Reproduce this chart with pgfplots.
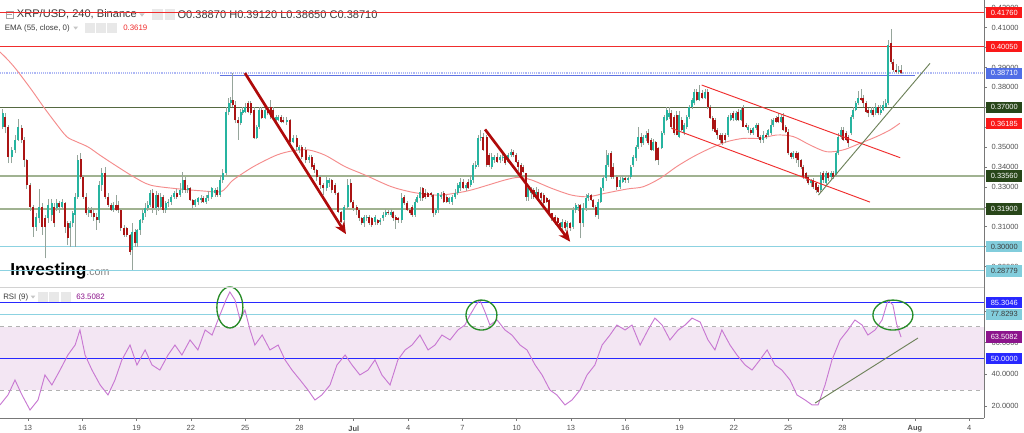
\documentclass[border=0pt]{standalone}
\usepackage{fontspec}
\setmainfont{Liberation Sans}
\usepackage{pgfplots}
\usepackage{pgfplotstable}
\pgfplotsset{compat=1.18}
\usetikzlibrary{arrows.meta}

\definecolor{upc}{RGB}{38,180,160}
\definecolor{dnc}{RGB}{170,20,20}
\definecolor{wickc}{RGB}{150,165,155}
\definecolor{emac}{RGB}{245,140,140}
\definecolor{redl}{RGB}{240,45,45}
\definecolor{arrowc}{RGB}{175,10,10}
\definecolor{dgreen}{RGB}{85,105,65}
\definecolor{lgreen}{RGB}{160,178,145}
\definecolor{lblue}{RGB}{140,210,225}
\definecolor{dotblue}{RGB}{175,185,245}
\definecolor{segblue}{RGB}{95,115,225}
\definecolor{rsic}{RGB}{200,120,210}
\definecolor{bandc}{RGB}{243,230,243}
\definecolor{rsiblue}{RGB}{40,40,255}
\definecolor{labred}{RGB}{250,25,25}
\definecolor{labgreen}{RGB}{40,70,25}
\definecolor{labblue}{RGB}{80,110,230}
\definecolor{labcyan}{RGB}{130,205,220}
\definecolor{labpurple}{RGB}{140,20,140}
\definecolor{axisgray}{RGB}{120,120,120}
\definecolor{txtgray}{RGB}{80,80,80}
\definecolor{hdr}{RGB}{60,60,60}
\definecolor{trendg}{RGB}{110,130,90}
\definecolor{ellg}{RGB}{40,140,40}

\newcommand{\fsz}[1]{\fontsize{#1pt}{#1pt}\selectfont}

% XRP/USD 4h candles, x = bar index (4 h each)
\pgfplotstableread{
b o h l c
0.9 0.3603 0.3690 0.3590 0.3670
1.7 0.3653 0.3670 0.3570 0.3600
2.8 0.3603 0.3610 0.3420 0.3452
3.9 0.3452 0.3500 0.3420 0.3486
5.0 0.3486 0.3560 0.3470 0.3536
6.1 0.3536 0.3640 0.3530 0.3603
7.2 0.3594 0.3610 0.3520 0.3536
8.0 0.3536 0.3550 0.3400 0.3435
8.8 0.3435 0.3440 0.3290 0.3310
9.9 0.3310 0.3320 0.3180 0.3201
11.0 0.3201 0.3210 0.3050 0.3100
11.9 0.3100 0.3170 0.3080 0.3151
13.0 0.3142 0.3290 0.3120 0.3201
14.0 0.3201 0.3220 0.3060 0.3100
14.9 0.3142 0.3160 0.2941 0.3100
16.0 0.3142 0.3240 0.3120 0.3209
17.1 0.3160 0.3240 0.3130 0.3218
17.9 0.3201 0.3220 0.3100 0.3117
18.8 0.3192 0.3240 0.3180 0.3218
19.7 0.3218 0.3230 0.3170 0.3201
20.6 0.3201 0.3240 0.3190 0.3226
21.5 0.3218 0.3225 0.3070 0.3100
22.4 0.3117 0.3130 0.3008 0.3042
23.3 0.3092 0.3130 0.3000 0.3117
24.1 0.3117 0.3180 0.3100 0.3167
24.9 0.3160 0.3270 0.3000 0.3251
25.7 0.3251 0.3460 0.3240 0.3435
26.7 0.3440 0.3469 0.3340 0.3352
27.6 0.3352 0.3360 0.3240 0.3251
28.5 0.3251 0.3270 0.3160 0.3167
29.4 0.3167 0.3200 0.3150 0.3184
30.2 0.3184 0.3200 0.3150 0.3167
31.0 0.3167 0.3190 0.3130 0.3151
32.0 0.3151 0.3170 0.3084 0.3134
32.9 0.3134 0.3330 0.3120 0.3310
33.7 0.3310 0.3394 0.3280 0.3368
34.8 0.3368 0.3402 0.3240 0.3251
35.9 0.3251 0.3270 0.3200 0.3209
36.8 0.3209 0.3220 0.3180 0.3184
37.6 0.3184 0.3225 0.3175 0.3209
38.5 0.3209 0.3259 0.3180 0.3184
39.2 0.3209 0.3230 0.3170 0.3184
40.0 0.3184 0.3190 0.3080 0.3092
41.1 0.3092 0.3110 0.3050 0.3058
42.0 0.3092 0.3100 0.3050 0.3058
43.1 0.3058 0.3065 0.2960 0.2975
43.9 0.2983 0.3120 0.2883 0.3075
44.8 0.3075 0.3090 0.3000 0.3017
45.5 0.3017 0.3090 0.3000 0.3084
46.4 0.3084 0.3140 0.3060 0.3134
47.3 0.3134 0.3190 0.3120 0.3167
48.2 0.3167 0.3220 0.3150 0.3192
49.0 0.3192 0.3230 0.3180 0.3209
49.7 0.3209 0.3285 0.3200 0.3268
50.6 0.3268 0.3290 0.3170 0.3192
51.7 0.3192 0.3280 0.3160 0.3259
52.5 0.3259 0.3270 0.3180 0.3201
53.3 0.3201 0.3270 0.3190 0.3251
54.1 0.3251 0.3260 0.3170 0.3184
54.9 0.3184 0.3230 0.3170 0.3218
55.8 0.3218 0.3240 0.3200 0.3226
56.7 0.3226 0.3260 0.3210 0.3251
57.7 0.3251 0.3280 0.3240 0.3268
58.6 0.3268 0.3290 0.3240 0.3251
59.7 0.3259 0.3320 0.3250 0.3285
60.6 0.3285 0.3377 0.3270 0.3335
61.3 0.3335 0.3350 0.3270 0.3285
62.2 0.3285 0.3310 0.3270 0.3293
63.0 0.3293 0.3300 0.3230 0.3234
63.9 0.3234 0.3240 0.3190 0.3209
64.6 0.3209 0.3240 0.3200 0.3234
65.7 0.3226 0.3250 0.3210 0.3243
66.6 0.3234 0.3260 0.3220 0.3243
67.4 0.3243 0.3255 0.3220 0.3226
68.3 0.3226 0.3260 0.3215 0.3243
69.1 0.3243 0.3280 0.3230 0.3259
70.2 0.3251 0.3300 0.3240 0.3293
71.3 0.3268 0.3295 0.3250 0.3285
72.0 0.3285 0.3300 0.3250 0.3259
72.9 0.3259 0.3360 0.3250 0.3335
73.8 0.3335 0.3390 0.3320 0.3368
74.9 0.3368 0.3700 0.3360 0.3678
75.8 0.3678 0.3745 0.3660 0.3720
76.5 0.3720 0.3750 0.3700 0.3737
77.1 0.3737 0.3870 0.3700 0.3712
78.0 0.3712 0.3730 0.3620 0.3636
79.0 0.3636 0.3650 0.3536 0.3620
79.8 0.3620 0.3690 0.3610 0.3678
80.4 0.3670 0.3700 0.3660 0.3687
81.2 0.3678 0.3720 0.3670 0.3703
82.3 0.3720 0.3730 0.3670 0.3678
83.1 0.3720 0.3730 0.3660 0.3670
84.2 0.3687 0.3700 0.3540 0.3544
85.1 0.3544 0.3610 0.3540 0.3603
86.0 0.3603 0.3700 0.3590 0.3687
86.7 0.3687 0.3700 0.3640 0.3645
87.8 0.3645 0.3700 0.3640 0.3687
88.7 0.3687 0.3700 0.3660 0.3670
89.7 0.3700 0.3735 0.3640 0.3653
90.6 0.3687 0.3700 0.3640 0.3653
91.5 0.3636 0.3660 0.3620 0.3653
92.3 0.3636 0.3660 0.3630 0.3653
93.1 0.3653 0.3660 0.3620 0.3628
93.9 0.3636 0.3650 0.3620 0.3628
95.0 0.3628 0.3650 0.3610 0.3636
96.1 0.3636 0.3640 0.3510 0.3527
97.2 0.3527 0.3560 0.3520 0.3544
98.3 0.3544 0.3560 0.3480 0.3502
99.1 0.3486 0.3510 0.3470 0.3502
100.0 0.3502 0.3510 0.3440 0.3452
101.3 0.3486 0.3500 0.3420 0.3435
102.4 0.3435 0.3460 0.3420 0.3452
103.3 0.3452 0.3460 0.3390 0.3402
104.2 0.3410 0.3420 0.3370 0.3385
105.0 0.3385 0.3390 0.3330 0.3352
106.1 0.3352 0.3360 0.3290 0.3310
107.2 0.3310 0.3320 0.3260 0.3293
108.3 0.3293 0.3350 0.3280 0.3335
109.1 0.3318 0.3345 0.3300 0.3335
109.9 0.3335 0.3340 0.3270 0.3285
111.0 0.3310 0.3320 0.3260 0.3268
112.1 0.3268 0.3275 0.3170 0.3176
113.0 0.3176 0.3180 0.3120 0.3126
114.1 0.3134 0.3210 0.3110 0.3201
115.2 0.3201 0.3340 0.3190 0.3310
116.2 0.3318 0.3340 0.3220 0.3226
117.1 0.3226 0.3235 0.3180 0.3192
118.2 0.3201 0.3210 0.3160 0.3184
119.1 0.3184 0.3190 0.3130 0.3142
119.9 0.3142 0.3150 0.3110 0.3117
120.8 0.3117 0.3160 0.3100 0.3151
121.5 0.3142 0.3160 0.3130 0.3151
122.4 0.3151 0.3160 0.3110 0.3117
123.2 0.3142 0.3150 0.3100 0.3109
124.3 0.3126 0.3160 0.3110 0.3151
125.2 0.3134 0.3140 0.3110 0.3117
126.1 0.3126 0.3145 0.3110 0.3134
127.0 0.3142 0.3175 0.3130 0.3160
127.9 0.3160 0.3190 0.3150 0.3176
128.7 0.3176 0.3185 0.3160 0.3167
129.6 0.3160 0.3190 0.3150 0.3176
130.4 0.3176 0.3180 0.3130 0.3142
131.2 0.3151 0.3160 0.3090 0.3134
132.1 0.3142 0.3150 0.3120 0.3134
133.1 0.3134 0.3270 0.3120 0.3243
134.0 0.3251 0.3260 0.3210 0.3218
134.9 0.3218 0.3230 0.3180 0.3184
135.9 0.3184 0.3190 0.3160 0.3167
136.7 0.3201 0.3210 0.3150 0.3160
137.6 0.3160 0.3240 0.3150 0.3226
138.4 0.3226 0.3260 0.3220 0.3251
139.3 0.3243 0.3301 0.3230 0.3276
140.1 0.3293 0.3300 0.3230 0.3243
140.9 0.3268 0.3290 0.3240 0.3251
141.8 0.3268 0.3275 0.3250 0.3251
142.9 0.3268 0.3275 0.3250 0.3260
143.6 0.3259 0.3265 0.3150 0.3167
144.4 0.3167 0.3190 0.3160 0.3184
145.3 0.3184 0.3270 0.3170 0.3268
146.2 0.3251 0.3275 0.3240 0.3259
147.1 0.3268 0.3280 0.3220 0.3226
148.1 0.3251 0.3260 0.3220 0.3226
148.9 0.3226 0.3250 0.3215 0.3243
149.9 0.3226 0.3260 0.3210 0.3251
150.8 0.3251 0.3290 0.3240 0.3268
151.7 0.3268 0.3320 0.3260 0.3310
152.6 0.3293 0.3345 0.3280 0.3327
153.6 0.3327 0.3340 0.3290 0.3293
154.5 0.3293 0.3320 0.3280 0.3310
155.2 0.3327 0.3340 0.3290 0.3293
156.0 0.3310 0.3360 0.3300 0.3335
156.9 0.3335 0.3420 0.3320 0.3410
157.7 0.3402 0.3430 0.3390 0.3410
158.6 0.3410 0.3560 0.3400 0.3544
159.3 0.3544 0.3586 0.3530 0.3553
160.2 0.3553 0.3570 0.3480 0.3486
161.3 0.3553 0.3560 0.3400 0.3410
162.2 0.3460 0.3470 0.3400 0.3410
163.0 0.3402 0.3470 0.3390 0.3452
163.9 0.3435 0.3460 0.3420 0.3452
164.9 0.3452 0.3470 0.3420 0.3427
165.7 0.3435 0.3460 0.3420 0.3452
166.6 0.3443 0.3470 0.3430 0.3452
167.4 0.3452 0.3460 0.3410 0.3419
168.5 0.3427 0.3470 0.3420 0.3460
169.4 0.3460 0.3490 0.3450 0.3477
170.2 0.3477 0.3485 0.3450 0.3460
171.0 0.3460 0.3470 0.3420 0.3427
171.8 0.3427 0.3435 0.3380 0.3402
172.7 0.3410 0.3420 0.3350 0.3360
173.5 0.3402 0.3410 0.3370 0.3377
174.4 0.3368 0.3370 0.3230 0.3251
175.1 0.3251 0.3300 0.3230 0.3293
176.0 0.3268 0.3300 0.3240 0.3285
176.9 0.3285 0.3295 0.3240 0.3251
177.7 0.3251 0.3300 0.3240 0.3276
178.5 0.3276 0.3290 0.3230 0.3234
179.3 0.3268 0.3275 0.3230 0.3243
180.2 0.3259 0.3270 0.3200 0.3218
181.2 0.3243 0.3250 0.3220 0.3226
182.1 0.3234 0.3240 0.3160 0.3167
182.9 0.3167 0.3170 0.3130 0.3142
184.0 0.3151 0.3160 0.3110 0.3126
184.9 0.3142 0.3150 0.3100 0.3117
185.6 0.3117 0.3125 0.3090 0.3100
186.4 0.3100 0.3140 0.3080 0.3126
187.3 0.3126 0.3135 0.3080 0.3092
188.1 0.3100 0.3130 0.3090 0.3117
189.1 0.3117 0.3125 0.3080 0.3092
190.1 0.3100 0.3200 0.3090 0.3184
190.8 0.3184 0.3220 0.3170 0.3209
191.7 0.3192 0.3215 0.3180 0.3201
192.4 0.3209 0.3215 0.3042 0.3117
193.4 0.3117 0.3220 0.3100 0.3192
194.3 0.3192 0.3265 0.3180 0.3243
195.0 0.3243 0.3270 0.3230 0.3259
195.9 0.3259 0.3265 0.3230 0.3234
196.7 0.3234 0.3240 0.3190 0.3201
197.5 0.3201 0.3210 0.3150 0.3160
198.3 0.3160 0.3240 0.3140 0.3226
199.1 0.3226 0.3300 0.3220 0.3293
200.0 0.3293 0.3360 0.3280 0.3343
200.9 0.3343 0.3486 0.3330 0.3410
201.7 0.3410 0.3470 0.3400 0.3460
202.6 0.3469 0.3480 0.3340 0.3352
203.3 0.3402 0.3420 0.3340 0.3352
204.4 0.3352 0.3360 0.3285 0.3301
205.5 0.3301 0.3350 0.3290 0.3335
206.4 0.3327 0.3360 0.3320 0.3343
207.2 0.3343 0.3350 0.3320 0.3335
208.3 0.3335 0.3360 0.3320 0.3343
209.1 0.3352 0.3410 0.3340 0.3402
209.9 0.3410 0.3460 0.3400 0.3452
210.8 0.3443 0.3510 0.3430 0.3502
211.6 0.3502 0.3603 0.3490 0.3553
212.5 0.3553 0.3570 0.3500 0.3519
213.3 0.3519 0.3560 0.3510 0.3553
214.1 0.3544 0.3580 0.3530 0.3561
214.9 0.3569 0.3590 0.3510 0.3519
215.8 0.3536 0.3545 0.3480 0.3486
216.6 0.3486 0.3540 0.3480 0.3527
217.4 0.3527 0.3530 0.3430 0.3435
218.2 0.3494 0.3500 0.3410 0.3435
219.3 0.3494 0.3580 0.3490 0.3569
220.1 0.3569 0.3660 0.3560 0.3653
221.0 0.3636 0.3700 0.3630 0.3687
221.9 0.3653 0.3700 0.3640 0.3670
222.6 0.3670 0.3687 0.3590 0.3603
223.5 0.3653 0.3660 0.3560 0.3569
224.3 0.3661 0.3680 0.3560 0.3561
225.2 0.3553 0.3680 0.3545 0.3661
226.0 0.3636 0.3650 0.3580 0.3586
226.7 0.3569 0.3620 0.3560 0.3611
227.6 0.3603 0.3660 0.3590 0.3653
228.5 0.3653 0.3710 0.3640 0.3703
229.4 0.3703 0.3745 0.3690 0.3737
230.2 0.3720 0.3790 0.3710 0.3779
230.9 0.3779 0.3790 0.3730 0.3737
231.8 0.3737 0.3812 0.3730 0.3779
232.7 0.3770 0.3785 0.3740 0.3746
233.7 0.3746 0.3790 0.3740 0.3779
234.6 0.3779 0.3790 0.3690 0.3703
235.4 0.3703 0.3710 0.3640 0.3645
236.2 0.3645 0.3655 0.3580 0.3590
237.1 0.3636 0.3645 0.3570 0.3578
237.8 0.3586 0.3595 0.3540 0.3561
238.7 0.3561 0.3570 0.3520 0.3536
239.5 0.3561 0.3570 0.3510 0.3519
240.4 0.3561 0.3570 0.3520 0.3536
241.4 0.3561 0.3660 0.3550 0.3653
242.2 0.3636 0.3670 0.3630 0.3661
243.1 0.3670 0.3680 0.3630 0.3645
244.0 0.3636 0.3680 0.3630 0.3670
244.7 0.3678 0.3690 0.3630 0.3636
245.6 0.3636 0.3700 0.3630 0.3687
246.4 0.3695 0.3710 0.3600 0.3603
247.3 0.3611 0.3620 0.3595 0.3603
248.1 0.3586 0.3610 0.3570 0.3603
248.9 0.3586 0.3595 0.3560 0.3569
249.7 0.3569 0.3600 0.3560 0.3594
250.6 0.3594 0.3620 0.3585 0.3611
251.4 0.3611 0.3620 0.3540 0.3553
252.1 0.3553 0.3560 0.3520 0.3536
253.0 0.3536 0.3580 0.3520 0.3561
253.9 0.3561 0.3570 0.3540 0.3553
254.7 0.3561 0.3590 0.3550 0.3586
255.6 0.3569 0.3640 0.3560 0.3611
256.3 0.3611 0.3645 0.3600 0.3636
257.2 0.3645 0.3655 0.3620 0.3628
258.0 0.3653 0.3670 0.3620 0.3628
258.9 0.3628 0.3660 0.3620 0.3653
259.7 0.3653 0.3670 0.3580 0.3586
260.5 0.3603 0.3610 0.3570 0.3578
261.3 0.3578 0.3590 0.3460 0.3469
262.2 0.3469 0.3475 0.3440 0.3452
263.0 0.3452 0.3480 0.3440 0.3469
263.9 0.3469 0.3480 0.3420 0.3444
264.6 0.3469 0.3475 0.3400 0.3435
265.5 0.3435 0.3440 0.3390 0.3402
266.3 0.3402 0.3410 0.3340 0.3352
267.2 0.3368 0.3375 0.3330 0.3343
268.0 0.3352 0.3360 0.3310 0.3318
268.8 0.3318 0.3340 0.3300 0.3335
269.6 0.3335 0.3345 0.3290 0.3301
270.5 0.3318 0.3325 0.3268 0.3285
271.3 0.3301 0.3310 0.3270 0.3276
272.1 0.3285 0.3377 0.3270 0.3360
272.9 0.3368 0.3380 0.3320 0.3335
273.8 0.3318 0.3380 0.3310 0.3368
274.6 0.3368 0.3375 0.3330 0.3343
275.5 0.3352 0.3380 0.3340 0.3368
276.2 0.3368 0.3380 0.3340 0.3352
277.1 0.3360 0.3480 0.3350 0.3469
277.9 0.3469 0.3570 0.3460 0.3553
278.8 0.3553 0.3600 0.3540 0.3586
279.5 0.3586 0.3600 0.3530 0.3536
280.4 0.3569 0.3580 0.3530 0.3536
281.2 0.3553 0.3560 0.3500 0.3519
282.1 0.3569 0.3660 0.3560 0.3653
282.9 0.3653 0.3700 0.3640 0.3687
283.7 0.3687 0.3730 0.3680 0.3720
284.5 0.3720 0.3780 0.3710 0.3745
285.4 0.3745 0.3790 0.3730 0.3737
286.2 0.3745 0.3760 0.3700 0.3720
287.1 0.3720 0.3730 0.3670 0.3678
287.8 0.3687 0.3695 0.3650 0.3670
288.7 0.3670 0.3700 0.3660 0.3687
289.5 0.3687 0.3700 0.3650 0.3661
290.3 0.3670 0.3720 0.3660 0.3703
291.1 0.3703 0.3710 0.3660 0.3670
291.9 0.3670 0.3710 0.3660 0.3687
292.8 0.3687 0.3730 0.3680 0.3711
293.6 0.3703 0.3740 0.3700 0.3720
294.5 0.3720 0.4040 0.3710 0.4013
295.4 0.4022 0.4092 0.3920 0.3929
296.1 0.3929 0.3945 0.3875 0.3888
297.0 0.3888 0.3920 0.3870 0.3879
297.9 0.3879 0.3910 0.3865 0.3888
298.7 0.3887 0.3912 0.3865 0.3871
}\candles

\pgfplotsset{chartax/.style={
  scale only axis, width=738pt, xmin=0, xmax=326.2,
  tick align=outside, major tick length=2.2pt,
  tick style={draw=axisgray, line width=0.5pt},
  axis line style={draw=axisgray, line width=0.6pt, -},
  ticklabel style={font=\fsz{5.6}, text=txtgray},
  scaled ticks=false,
  /pgf/number format/assume math mode=true}}

\begin{document}
\begin{tikzpicture}[x=1pt,y=1pt]
\fill[white] (0,0) rectangle (768,324);

% header, main panel
\draw[gray!70, line width=0.5pt] (4.5,310.5) rectangle (9.75,315.75);
\draw[gray!70, line width=0.4pt] (5.6,313.1) -- (8.65,313.1);
\node[anchor=west, inner sep=0, font=\fsz{8.3}, text=hdr] at (12.5,313.1) {XRP/USD, 240, Binance};
\fill[gray!45] (104.5,314) -- (108.5,314) -- (106.5,311.5) -- cycle;
\fill[gray!18] (114,309) rectangle (122,317);
\fill[gray!18] (123.5,309) rectangle (131,317);
\node[anchor=west, inner sep=0, font=\fsz{8.3}, text=hdr] at (133,313.1) {O0.38870 H0.39120 L0.38650 C0.38710};
\node[anchor=west, inner sep=0, font=\fsz{5.9}, text=hdr] at (3.5,303) {EMA (55, close, 0)};
\fill[gray!45] (55,304) -- (58.5,304) -- (56.75,301.8) -- cycle;
\fill[gray!18] (63.75,299.5) rectangle (71.25,306.75);
\fill[gray!18] (72,299.5) rectangle (79.5,306.75);
\fill[gray!18] (80.25,299.5) rectangle (87.75,306.75);
\node[anchor=west, inner sep=0, font=\fsz{5.9}, text=redl] at (92.25,303) {0.3619};

% header, RSI panel
\node[anchor=west, inner sep=0, font=\fsz{5.9}, text=hdr] at (2.25,101.25) {RSI (9)};
\fill[gray!45] (23,102.3) -- (26.5,102.3) -- (24.75,100.1) -- cycle;
\fill[gray!18] (28.5,97.5) rectangle (36,105);
\fill[gray!18] (37,97.5) rectangle (44.5,105);
\fill[gray!18] (45.5,97.5) rectangle (53,105);
\node[anchor=west, inner sep=0, font=\fsz{5.9}, text=labpurple] at (57,101.25) {63.5082};

% logo
\node[anchor=base west, inner sep=0] at (7.5,117) {\bfseries\fsz{13}Investing\mdseries\fsz{8}\color{gray}.com};

\begin{axis}[chartax, at={(0pt,110.25pt)}, anchor=south west, height=213.75pt,
  ymin=0.28075, ymax=0.42392,
  axis x line=none, axis y line*=right,
  ytick={0.29,0.30,0.31,0.32,0.33,0.34,0.35,0.36,0.37,0.38,0.39,0.40,0.41,0.42},
  yticklabels={0.29000,0.30000,0.31000,{},0.33000,0.34000,0.35000,{},0.37000,0.38000,0.39000,0.40000,0.41000,0.42000}]

% horizontal levels
\addplot[redl, line width=0.75pt] coordinates {(0,0.4176) (326.2,0.4176)};
\addplot[redl, line width=0.75pt] coordinates {(0,0.4005) (326.2,0.4005)};
\addplot[dotblue, line width=1.3pt, dash pattern=on 0.7pt off 0.7pt] coordinates {(0,0.3871) (326.2,0.3871)};
\addplot[segblue, line width=1.1pt] coordinates {(72.9,0.3860) (303.3,0.3860)};
\addplot[dgreen, line width=0.75pt] coordinates {(0,0.37) (326.2,0.37)};
\addplot[lgreen, line width=1.3pt] coordinates {(0,0.3356) (326.2,0.3356)};
\addplot[lgreen, line width=1.3pt] coordinates {(0,0.319) (326.2,0.319)};
\addplot[lblue, line width=0.75pt] coordinates {(0,0.30) (326.2,0.30)};
\addplot[lblue, line width=0.75pt] coordinates {(0,0.28779) (326.2,0.28779)};

% EMA 55
\addplot[emac, line width=0.7pt, smooth] coordinates {
(0,0.3978) (2.65,0.3938) (5.5,0.3888) (10.5,0.3787) (14.4,0.3703) (18.2,0.3626)
(22.1,0.3553) (25.4,0.3527) (29.2,0.3501) (33.1,0.3460) (38.1,0.3410) (44.2,0.3352)
(49.7,0.3310) (57.5,0.3293) (66.3,0.3281) (72.9,0.3276) (75.2,0.3300) (77.3,0.3335)
(84.0,0.3402) (91.7,0.3460) (97.2,0.3482) (102.2,0.3486) (107.7,0.3460) (114.4,0.3402)
(121.0,0.3360) (129.8,0.3301) (137.6,0.3271) (145.3,0.3259) (151.9,0.3271) (156.3,0.3285)
(161.9,0.3310) (167.4,0.3335) (171.8,0.3348) (176.2,0.3335) (182.9,0.3293) (189.5,0.3259)
(195.0,0.3251) (200.5,0.3268) (208,0.3290) (213.2,0.3301) (218.8,0.3343) (224.3,0.3402)
(229.8,0.3452) (235.4,0.3494) (240.9,0.3527) (246.4,0.3544) (251.9,0.3544) (257.5,0.3561)
(263.0,0.3553) (268.5,0.3511) (274.0,0.3477) (279.5,0.3486) (285.1,0.3519) (290.6,0.3553)
(295.0,0.3586) (298.3,0.3620)};

% candles: wicks, up bodies, down bodies
\addplot[draw=none, mark=none, forget plot,
  error bars/.cd, y dir=plus, y explicit, error mark=none,
  error bar style={draw=wickc, line width=0.5pt, solid}]
  table[x=b, y=l, y error expr=\thisrow{h}-\thisrow{l}] {\candles};
\addplot[draw=none, mark=none, forget plot,
  restrict expr to domain={\thisrow{c}-\thisrow{o}}{0:1},
  error bars/.cd, y dir=plus, y explicit, error mark=none,
  error bar style={draw=upc, line width=1.5pt, solid}]
  table[x=b, y=o, y error expr=\thisrow{c}-\thisrow{o}] {\candles};
\addplot[draw=none, mark=none, forget plot,
  restrict expr to domain={\thisrow{o}-\thisrow{c}}{0.00001:1},
  error bars/.cd, y dir=plus, y explicit, error mark=none,
  error bar style={draw=dnc, line width=1.5pt, solid}]
  table[x=b, y=c, y error expr=\thisrow{o}-\thisrow{c}] {\candles};

% channel and trend lines
\addplot[redl, line width=0.7pt] coordinates {(232.6,0.3812) (298.4,0.3447)};
\addplot[redl, line width=0.7pt] coordinates {(222.7,0.3594) (288.4,0.3224)};
\addplot[trendg, line width=0.7pt] coordinates {(271.3,0.3259) (308.3,0.3921)};

% arrows
\addplot[arrowc, line width=2pt, -{Stealth[length=9pt,width=8pt]}] coordinates {(81.2,0.3872) (114.7,0.3063)};
\addplot[arrowc, line width=2pt, -{Stealth[length=9pt,width=8pt]}] coordinates {(160.8,0.3589) (189.0,0.3025)};

\coordinate (pA) at (axis cs:326.2,0.4176);
\coordinate (pB) at (axis cs:326.2,0.4005);
\coordinate (pC) at (axis cs:326.2,0.3871);
\coordinate (pD) at (axis cs:326.2,0.37);
\coordinate (pE) at (axis cs:326.2,0.36185);
\coordinate (pF) at (axis cs:326.2,0.3356);
\coordinate (pG) at (axis cs:326.2,0.319);
\coordinate (pH) at (axis cs:326.2,0.30);
\coordinate (pI) at (axis cs:326.2,0.28779);
\end{axis}

\begin{axis}[chartax, at={(0pt,10.5pt)}, anchor=south west, height=96.75pt,
  ymin=12.45, ymax=93.85, clip=false,
  axis x line*=bottom, axis y line*=right,
  xtick={9.28,27.28,45.28,63.28,81.28,99.28,117.28,135.28,153.28,171.28,189.28,207.28,225.28,243.28,261.28,279.28,303.28,321.28},
  xticklabels={13,16,19,22,25,28,\textbf{Jul},4,7,10,13,16,19,22,25,28,\textbf{Aug},4},
  ytick={20,40,60,80},
  yticklabels={20.0000,40.0000,60.0000,{}}]

\addplot[fill=bandc, draw=none] coordinates {(0,30) (326.2,30) (326.2,70) (0,70)} -- cycle;
\addplot[gray!60, line width=0.6pt, dashed] coordinates {(0,70) (326.2,70)};
\addplot[gray!60, line width=0.6pt, dashed] coordinates {(0,30) (326.2,30)};
\addplot[rsiblue, line width=0.6pt] coordinates {(0,85.3046) (326.2,85.3046)};
\addplot[lblue, line width=0.6pt] coordinates {(0,77.8293) (326.2,77.8293)};
\addplot[rsiblue, line width=0.6pt] coordinates {(0,50) (326.2,50)};

% RSI(9)
\addplot[rsic, line width=0.7pt] coordinates {
(0,20.7) (2.65,27.0) (4.97,36.4) (7.29,27.0) (9.95,17.5) (12.6,23.8) (14.9,39.6) (17.2,33.3)
(19.9,42.7) (22.5,52.2) (24.9,58.5) (26.5,68.0) (28.2,52.2) (30.5,42.7) (33.2,33.3) (35.8,27.0)
(38.1,36.4) (40.4,49.1) (43.1,58.5) (45.4,45.9) (48.1,55.4) (50.4,45.9) (53.0,42.7) (55.7,52.2)
(58.0,58.5) (60.3,52.2) (63.0,61.7) (65.6,55.4) (68.0,68.0) (70.3,64.8) (72.9,77.4) (74.9,86.9)
(76.2,92.0) (77.9,86.9) (79.6,74.3) (81.2,80.6) (82.9,68.0) (84.5,58.5) (86.9,64.8) (89.5,55.4)
(92.2,58.5) (94.5,49.1) (96.8,42.7) (99.5,36.4) (102.1,30.1) (104.4,23.8) (106.7,27.0) (109.4,33.3)
(111.7,45.9) (114.4,52.2) (116.7,45.9) (119.3,39.6) (122.0,42.7) (124.3,49.1) (126.6,39.6) (129.3,33.3)
(131.9,49.1) (134.3,55.4) (136.6,58.5) (139.2,64.8) (141.9,55.4) (144.2,58.5) (146.5,64.8) (149.2,61.7)
(151.8,68.0) (154.1,71.1) (155.8,77.4) (157.8,83.8) (159.1,86.9) (160.8,79.3) (162.4,71.1) (164.8,74.3)
(167.4,68.0) (169.7,64.8) (172.4,58.5) (174.7,55.4) (177.4,45.9) (179.7,39.6) (182.3,30.1) (184.6,27.0)
(187.3,20.7) (189.6,23.8) (192.3,30.1) (194.6,39.6) (197.2,45.9) (199.6,58.5) (202.2,64.8) (204.5,71.1)
(207.2,68.0) (209.5,71.1) (212.2,58.5) (214.8,68.0) (217.1,75.5) (219.5,71.1) (222.1,61.7) (224.8,68.0)
(227.1,71.1) (229.4,75.5) (232.1,73.0) (234.7,61.7) (237.0,55.4) (239.3,68.0) (242.0,58.5) (244.3,52.2)
(247.0,45.9) (249.3,42.7) (251.9,49.1) (254.3,55.4) (256.9,45.9) (259.2,42.7) (261.9,36.4) (264.2,27.0)
(266.9,23.8) (269.2,20.7) (271.2,20.7) (273.5,33.3) (275.8,49.1) (278.5,61.7) (281.1,68.0) (283.4,74.3)
(285.8,71.1) (287.7,64.8) (290.1,68.0) (292.4,74.3) (294.4,86.9) (296.0,83.8) (297.2,72.0) (298.7,63.5)};

\addplot[trendg, line width=0.7pt] coordinates {(270.2,21.9) (304.3,62.9)};

\draw[ellg, line width=1pt] (axis cs:76.2,82.2) ellipse [x radius=9.75pt, y radius=15.4pt];
\draw[ellg, line width=1pt] (axis cs:159.6,77.4) ellipse [x radius=11.6pt, y radius=11.25pt];
\draw[ellg, line width=1pt] (axis cs:296.0,77.4) ellipse [x radius=15pt, y radius=11.25pt];

\coordinate (rA) at (axis cs:326.2,85.3046);
\coordinate (rB) at (axis cs:326.2,77.8293);
\coordinate (rC) at (axis cs:326.2,63.5082);
\coordinate (rD) at (axis cs:326.2,50);
\end{axis}

% panel separator and continuous price scale line
\draw[gray!35, line width=0.6pt] (0,108.75) -- (738,108.75);
\draw[axisgray, line width=0.6pt] (738,10.5) -- (738,324);

% price labels on the scale
\tikzset{lab/.style={anchor=west, inner sep=0pt, minimum width=27pt, minimum height=8.6pt, font=\fsz{5.6}, text=white}}
\node[lab, fill=labred] at ([xshift=1.5pt]pA) {0.41760};
\node[lab, fill=labred] at ([xshift=1.5pt]pB) {0.40050};
\node[lab, fill=labblue] at ([xshift=1.5pt]pC) {0.38710};
\node[lab, fill=labgreen] at ([xshift=1.5pt]pD) {0.37000};
\node[lab, fill=labred] at ([xshift=1.5pt]pE) {0.36185};
\node[lab, fill=labgreen] at ([xshift=1.5pt]pF) {0.33560};
\node[lab, fill=labgreen] at ([xshift=1.5pt]pG) {0.31900};
\node[lab, fill=labcyan, text=hdr] at ([xshift=1.5pt]pH) {0.30000};
\node[lab, fill=labcyan, text=hdr] at ([xshift=1.5pt]pI) {0.28779};
\node[lab, fill=rsiblue] at ([xshift=1.5pt]rA) {85.3046};
\node[lab, fill=labcyan, text=hdr] at ([xshift=1.5pt]rB) {77.8293};
\node[lab, fill=labpurple] at ([xshift=1.5pt]rC) {63.5082};
\node[lab, fill=rsiblue] at ([xshift=1.5pt]rD) {50.0000};

\pgfresetboundingbox
\useasboundingbox (0,0) rectangle (768,324);
\end{tikzpicture}
\end{document}
